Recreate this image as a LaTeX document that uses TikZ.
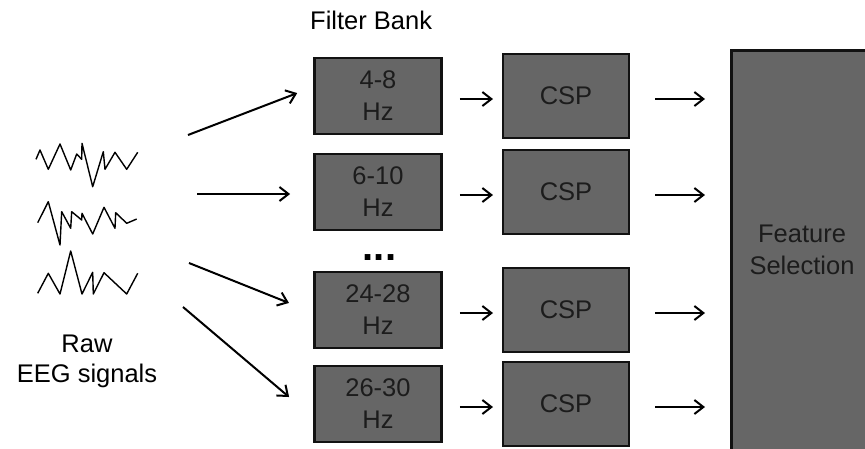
\documentclass[tikz,border=0pt]{standalone}
\usepackage{fontspec}
\setmainfont{Liberation Sans}
\usepackage{tikz}
\usetikzlibrary{arrows.meta,positioning}
\definecolor{boxgray}{HTML}{666666}
\definecolor{boxedge}{HTML}{121212}
\definecolor{boxtext}{HTML}{1C1C1C}

\begin{document}
\begin{tikzpicture}[x=1pt, y=-1pt,
        band/.style={rectangle, draw=boxedge, fill=boxgray, line width=2.8pt, minimum width=127pt, minimum height=76pt, align=center, text=boxtext, font=\fontsize{25.5}{32}\selectfont},
        cspbox/.style={band, line width=2.4pt, minimum width=125.6pt, minimum height=83.6pt},
        label/.style={align=center, inner sep=0pt, font=\fontsize{25.5}{30}\selectfont},
        arrow/.style={-{Straight Barb[length=9pt, width=14pt]}, line width=2pt},
        wave/.style={line width=1.4pt, line join=round}
    ]
        \path[use as bounding box] (0,0) rectangle (865,448);
        \clip (0,0) rectangle (865,448);

        \node[anchor=base west, inner sep=0pt, font=\fontsize{25.5}{30}\selectfont] (bank) at (310,29) {Filter Bank};

        \node[band] (f1) at (378,96) {4-8\\Hz};
        \node[band] (f2) at (378,192) {6-10\\Hz};
        \node[band] (f3) at (378,310) {24-28\\Hz};
        \node[band] (f4) at (378,404) {26-30\\Hz};
        \node[anchor=base, inner sep=0pt, font=\fontsize{40}{40}\selectfont\bfseries] (dots) at (379.5,260) {...};

        \node[cspbox] (c1) at (566,96) {CSP};
        \node[cspbox] (c2) at (566,192) {CSP};
        \node[cspbox] (c3) at (566,310) {CSP};
        \node[cspbox] (c4) at (566,404) {CSP};

        \node[band, minimum width=141.2pt, minimum height=419.6pt, text depth=20.4pt] (fs) at (802,260.2) {Feature\\Selection};

        \node[label] (raw) at (87,361.5) {Raw\\EEG signals};

        \draw[wave] (36,159.3) -- (40,150) -- (48.3,169.3) -- (60,144) -- (70.7,170) -- (76.7,154) -- (81.7,159.3) -- (82,143.3) -- (92.7,186.7) -- (103.3,151.7) -- (105,169.3) -- (115,152.3) -- (126.7,169.3) -- (137.7,152.3);
        \draw[wave] (37.7,222.7) -- (48.3,201.7) -- (60,245) -- (61.7,211.7) -- (70.7,228.3) -- (71.7,211.7) -- (81.7,220) -- (82,213.3) -- (92.7,234) -- (104,207.3) -- (115,228.3) -- (115.7,212.7) -- (126.7,223.3) -- (136.7,219);
        \draw[wave] (37.7,293.3) -- (48.3,273.3) -- (60,294) -- (70.7,251) -- (82,294) -- (92.7,272.3) -- (93.3,294) -- (104,272.7) -- (126.7,294) -- (137.7,273.3);

        \coordinate (s1) at (188,135);
        \coordinate (s2) at (197,194);
        \coordinate (s3) at (189,263);
        \coordinate (s4) at (183,307);

        \draw[arrow, shorten >=17pt] (s1) -- ([yshift=9pt]f1.west);
        \draw[arrow, shorten >=23pt] (s2) -- (s2 -| f2.west);
        \draw[arrow, shorten >=26pt] (s3) -- ([yshift=-2.6pt]f3.west);
        \draw[arrow, shorten >=31.5pt] (s4) -- ([yshift=-13.4pt]f4.west);

        \draw[arrow, shorten <=17pt, shorten >=9pt] ([yshift=-3pt]f1.east) -- ([yshift=-3pt]c1.west);
        \draw[arrow, shorten <=17pt, shorten >=9pt] ([yshift=-3pt]f2.east) -- ([yshift=-3pt]c2.west);
        \draw[arrow, shorten <=17pt, shorten >=9pt] ([yshift=-3pt]f3.east) -- ([yshift=-3pt]c3.west);
        \draw[arrow, shorten <=17pt, shorten >=9pt] ([yshift=-3pt]f4.east) -- ([yshift=-3pt]c4.west);

        \draw[arrow, shorten <=25pt, shorten >=25pt] ([yshift=-3pt]c1.east) -- ([yshift=-3pt]c1.east -| fs.west);
        \draw[arrow, shorten <=25pt, shorten >=25pt] ([yshift=-3pt]c2.east) -- ([yshift=-3pt]c2.east -| fs.west);
        \draw[arrow, shorten <=25pt, shorten >=25pt] ([yshift=-3pt]c3.east) -- ([yshift=-3pt]c3.east -| fs.west);
        \draw[arrow, shorten <=25pt, shorten >=25pt] ([yshift=-3pt]c4.east) -- ([yshift=-3pt]c4.east -| fs.west);
    \end{tikzpicture}
\end{document}
